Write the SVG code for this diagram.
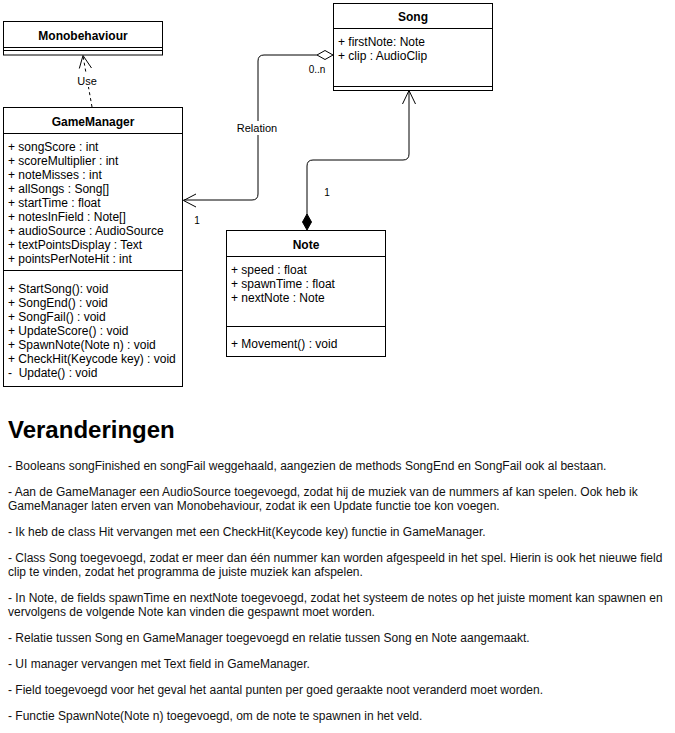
<svg xmlns="http://www.w3.org/2000/svg" width="675" height="733" viewBox="0 0 675 733">
<style>
text{font-family:"Liberation Sans",Arial,sans-serif;fill:#000}
.t{font-size:12px;font-weight:bold;text-anchor:middle}
.a{font-size:12px}
.l{font-size:11px;text-anchor:middle}
.s{font-size:10px;text-anchor:middle}
.p{font-size:12px;fill:#111}
.h{font-size:24px;font-weight:bold}
.box{fill:#fff;stroke:#000;stroke-width:1}
.ln{stroke:#000;stroke-width:1;fill:none}
</style>
<rect width="675" height="733" fill="#fff"/>
<g id="connectors">
  <g id="use">
    <line class="ln" x1="92" y1="107" x2="83" y2="56" stroke-dasharray="3 3"/>
    <polyline class="ln" points="79.3,68.5 83,55.5 91.5,68"/>
    <rect x="77" y="74" width="20" height="13" fill="#fff"/>
    <text class="l" x="87" y="85">Use</text>
  </g>
  <g id="relation">
    <path class="ln" d="M317 55 L264 55 Q258 55 258 61 L258 194 Q258 200 252 200 L183.5 200"/>
    <polyline class="ln" points="196,194 183.5,200.5 196,207"/>
    <polygon points="333,55 325,50.5 317,55 325,59.5" fill="#fff" stroke="#000"/>
    <rect x="233" y="121" width="48" height="14" fill="#fff"/>
    <text class="l" x="257" y="132">Relation</text>
    <text class="s" x="317" y="73">0..n</text>
    <text class="s" x="197" y="224">1</text>
  </g>
  <g id="composition">
    <path class="ln" d="M409 91 L409 154 Q409 160 403 160 L313 160 Q307 160 307 166 L307 215"/>
    <polyline class="ln" points="402.5,104 409,90.5 415.5,104"/>
    <polygon points="307,214 311.5,222 307,230 302.5,222" fill="#000" stroke="#000"/>
    <text class="s" x="327" y="196">1</text>
  </g>
</g>
<g id="Monobehaviour">
  <rect class="box" x="3.5" y="21.5" width="159" height="33.5"/>
  <line class="ln" x1="3.5" y1="47.5" x2="162.5" y2="47.5"/>
  <line class="ln" x1="3.5" y1="50.5" x2="162.5" y2="50.5"/>
  <text class="t" x="83" y="40">Monobehaviour</text>
</g>
<g id="GameManager">
  <rect class="box" x="3.5" y="107.5" width="179" height="279"/>
  <line class="ln" x1="3.5" y1="133.5" x2="182.5" y2="133.5"/>
  <line class="ln" x1="3.5" y1="270.5" x2="182.5" y2="270.5"/>
  <text class="t" x="93" y="126">GameManager</text>
  <text class="a" x="8" y="151">+ songScore : int</text>
  <text class="a" x="8" y="165">+ scoreMultiplier : int</text>
  <text class="a" x="8" y="179">+ noteMisses : int</text>
  <text class="a" x="8" y="193">+ allSongs : Song[]</text>
  <text class="a" x="8" y="207">+ startTime : float</text>
  <text class="a" x="8" y="221">+ notesInField : Note[]</text>
  <text class="a" x="8" y="235">+ audioSource : AudioSource</text>
  <text class="a" x="8" y="249">+ textPointsDisplay : Text</text>
  <text class="a" x="8" y="263">+ pointsPerNoteHit : int</text>
  <text class="a" x="8" y="293">+ StartSong(): void</text>
  <text class="a" x="8" y="307">+ SongEnd() : void</text>
  <text class="a" x="8" y="321">+ SongFail() : void</text>
  <text class="a" x="8" y="335">+ UpdateScore() : void</text>
  <text class="a" x="8" y="349">+ SpawnNote(Note n) : void</text>
  <text class="a" x="8" y="363">+ CheckHit(Keycode key) : void</text>
  <text class="a" x="8" y="377" xml:space="preserve">-  Update() : void</text>
</g>
<g id="Song">
  <rect class="box" x="333.5" y="3.5" width="159" height="87"/>
  <line class="ln" x1="333.5" y1="28.5" x2="492.5" y2="28.5"/>
  <line class="ln" x1="333.5" y1="86.5" x2="492.5" y2="86.5"/>
  <text class="t" x="413" y="21">Song</text>
  <text class="a" x="338" y="46">+ firstNote: Note</text>
  <text class="a" x="338" y="60">+ clip : AudioClip</text>
</g>
<g id="Note">
  <rect class="box" x="226.5" y="230.5" width="159" height="126"/>
  <line class="ln" x1="226.5" y1="256.5" x2="385.5" y2="256.5"/>
  <line class="ln" x1="226.5" y1="326.5" x2="385.5" y2="326.5"/>
  <text class="t" x="306" y="249">Note</text>
  <text class="a" x="231" y="274">+ speed : float</text>
  <text class="a" x="231" y="288">+ spawnTime : float</text>
  <text class="a" x="231" y="302">+ nextNote : Note</text>
  <text class="a" x="231" y="348">+ Movement() : void</text>
</g>
<g id="changes">
  <text class="h" x="8" y="438">Veranderingen</text>
  <text class="p" x="8" y="470">- Booleans songFinished en songFail weggehaald, aangezien de methods SongEnd en SongFail ook al bestaan.</text>
  <text class="p" x="8" y="496">- Aan de GameManager een AudioSource toegevoegd, zodat hij de muziek van de nummers af kan spelen. Ook heb ik</text>
  <text class="p" x="8" y="510">GameManager laten erven van Monobehaviour, zodat ik een Update functie toe kon voegen.</text>
  <text class="p" x="8" y="536">- Ik heb de class Hit vervangen met een CheckHit(Keycode key) functie in GameManager.</text>
  <text class="p" x="8" y="562">- Class Song toegevoegd, zodat er meer dan één nummer kan worden afgespeeld in het spel. Hierin is ook het nieuwe field</text>
  <text class="p" x="8" y="576">clip te vinden, zodat het programma de juiste muziek kan afspelen.</text>
  <text class="p" x="8" y="602">- In Note, de fields spawnTime en nextNote toegevoegd, zodat het systeem de notes op het juiste moment kan spawnen en</text>
  <text class="p" x="8" y="616">vervolgens de volgende Note kan vinden die gespawnt moet worden.</text>
  <text class="p" x="8" y="642">- Relatie tussen Song en GameManager toegevoegd en relatie tussen Song en Note aangemaakt.</text>
  <text class="p" x="8" y="668">- UI manager vervangen met Text field in GameManager.</text>
  <text class="p" x="8" y="694">- Field toegevoegd voor het geval het aantal punten per goed geraakte noot veranderd moet worden.</text>
  <text class="p" x="8" y="720">- Functie SpawnNote(Note n) toegevoegd, om de note te spawnen in het veld.</text>
</g>
</svg>
